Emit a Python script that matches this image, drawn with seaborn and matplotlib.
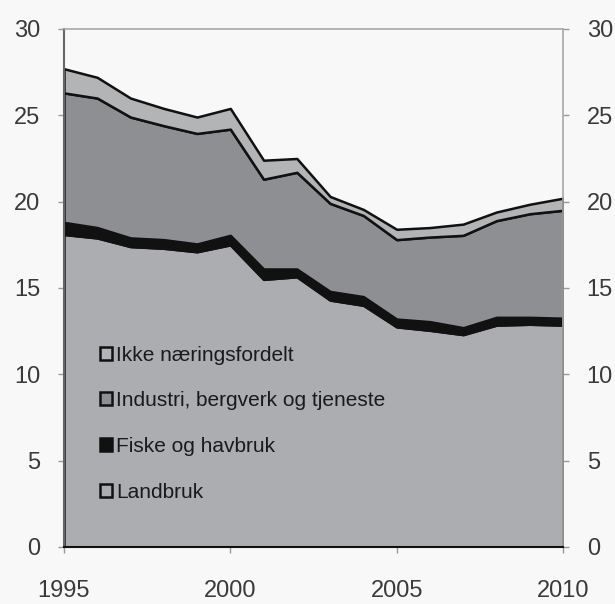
import matplotlib
matplotlib.use("Agg")
import matplotlib.pyplot as plt
import seaborn as sns
import pandas as pd

# Data (percent), stacked bottom to top
years = list(range(1995, 2011))
landbruk = [18.1, 17.9, 17.4, 17.3, 17.1, 17.5, 15.5, 15.65, 14.3, 14.0, 12.75, 12.55, 12.3, 12.85, 12.9, 12.85]
fiske = [0.7, 0.6, 0.5, 0.5, 0.45, 0.55, 0.6, 0.45, 0.5, 0.5, 0.45, 0.5, 0.4, 0.45, 0.4, 0.4]
industri = [7.5, 7.5, 7.0, 6.6, 6.4, 6.15, 5.2, 5.6, 5.1, 4.7, 4.6, 4.9, 5.35, 5.6, 6.0, 6.25]
ikke = [1.4, 1.2, 1.1, 1.0, 0.95, 1.2, 1.1, 0.8, 0.4, 0.35, 0.6, 0.55, 0.65, 0.5, 0.55, 0.7]

series_names = ["Landbruk", "Fiske og havbruk", "Industri, bergverk og tjeneste", "Ikke næringsfordelt"]
colors = ["#abadb0", "#111111", "#8e8f92", "#b3b4b6"]
yticks = [0, 5, 10, 15, 20, 25, 30]
xticks = [1995, 2000, 2005, 2010]

df = pd.DataFrame({"year": years, series_names[0]: landbruk, series_names[1]: fiske,
                   series_names[2]: industri, series_names[3]: ikke})

sns.set_style("white")
plt.rcParams["font.family"] = ["Liberation Sans", "DejaVu Sans"]

fig = plt.figure(figsize=(6.15, 6.04), dpi=100, facecolor="#f8f8f8")
ax = fig.add_axes([0.104, 0.0944, 0.8115, 0.8576])
ax.set_facecolor("#f8f8f8")

polys = ax.stackplot(df["year"], *[df[n] for n in series_names], colors=colors,
                     edgecolor="#111111", linewidth=1.8)

ax.set_xlim(1995, 2010)
ax.set_ylim(0, 30)
ax.set_xticks(xticks)
ax.set_yticks(yticks)
ax.tick_params(axis="both", labelsize=17, labelcolor="#3a3a3a", color="#999999",
               length=4, width=1, direction="out")
ax.tick_params(axis="y", left=True, right=True, labelleft=True, labelright=True, pad=13)
ax.tick_params(axis="x", bottom=True, pad=20)

for side in ["top", "right"]:
    ax.spines[side].set_color("#a8a8a8")
    ax.spines[side].set_linewidth(1.2)
ax.spines["left"].set_color("#666666")
ax.spines["left"].set_linewidth(1.5)
ax.spines["bottom"].set_color("#111111")
ax.spines["bottom"].set_linewidth(1.5)

handles = polys[::-1]
labels = series_names[::-1]
leg = ax.legend(handles, labels, loc="upper left", bbox_to_anchor=(0.055, 0.405),
                frameon=False, fontsize=15, handlelength=0.6, handleheight=0.6,
                handletextpad=0.2, labelspacing=1.28, borderaxespad=0)
for t in leg.get_texts():
    t.set_color("#1a1a1a")

plt.savefig("out.png", dpi=100, facecolor=fig.get_facecolor())
